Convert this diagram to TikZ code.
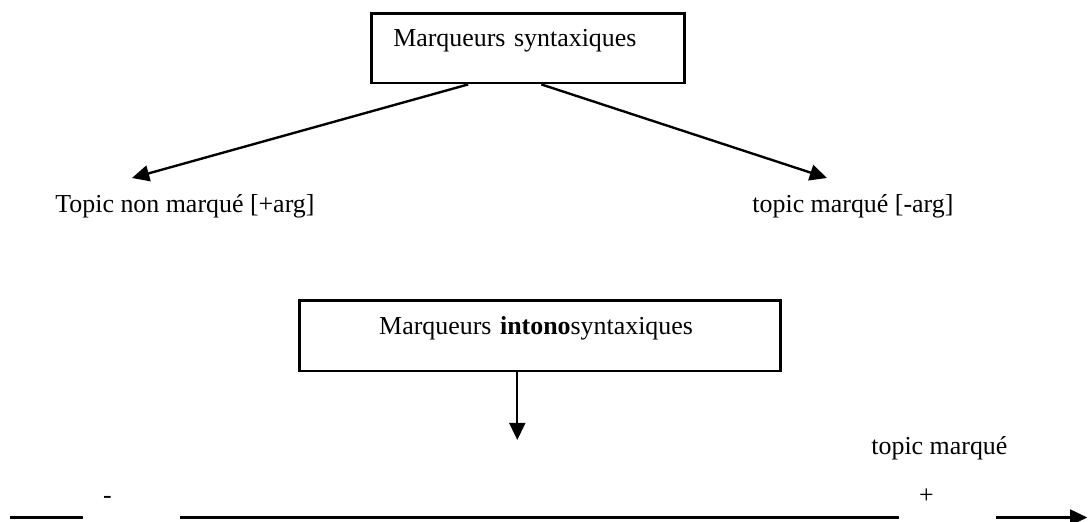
\documentclass[tikz,border=0pt]{standalone}
\usepackage{fontspec}
\setmainfont{Liberation Serif}
\usetikzlibrary{arrows.meta}

\begin{document}
\begin{tikzpicture}[font=\fontsize{12}{14}\selectfont, >={Triangle[length=0.28cm,width=0.26cm]},
	box/.style={draw,line width=1.2pt,inner ysep=0pt,text depth=0.6cm,align=left,anchor=north west},
	lbl/.style={inner sep=0pt,anchor=base west},
	sign/.style={fill=white,inner ysep=0pt,inner xsep=0.32cm,text width=0.94cm,text height=0.5cm,text depth=0.28cm,align=left,anchor=base west},
	conn/.style={line width=1.1pt}]

	\useasboundingbox (0,0) rectangle (17.713,8.498);

	\node[box, inner xsep=0.358cm, text width=4.38cm, text height=0.537cm] (synt) at (6.024,8.303) {Marqueurs syntaxiques};
	\node[lbl] (nonmarq) at (0.895,5.031) {Topic non marqué [+arg]};
	\node[lbl] (marq) at (12.243,5.031) {topic marqué [-arg]};
	\coordinate (tipl) at (2.149,5.600);
	\coordinate (tipr) at (13.464,5.600);
	\path[->,conn] ([xshift=-0.97cm]synt.south) edge (tipl);
	\path[->,conn] ([xshift=0.22cm]synt.south) edge (tipr);

	\node[box, inner xsep=1.302cm, text width=5.227cm, text height=0.554cm] (intono) at (4.851,3.630) {Marqueurs \textbf{intono}syntaxiques};
	\coordinate (startd) at ([xshift=-0.366cm]intono.south);
	\coordinate (tipd) at (startd |- 0,1.335);
	\path[->,conn] (startd) edge (tipd);

	% axe
	\coordinate (axstart) at (0.163,0.073);
	\coordinate (axend) at (17.70,0.073);
	\draw[->,conn] (axstart) -- (axend);
	\node[sign] (moins) at (1.351,0.309) {-};
	\node[sign] (plus) at (14.636,0.309) {+};
	\node[lbl] (marqplus) at (14.18,1.091) {topic marqué};

\end{tikzpicture}
\end{document}
